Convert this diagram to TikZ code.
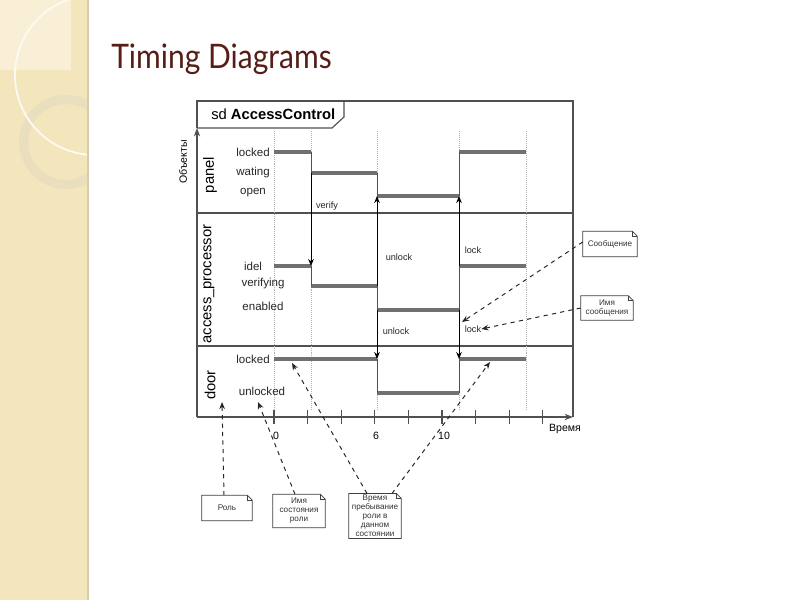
\documentclass[tikz,border=0pt]{standalone}
\usepackage{fontspec}
\setmainfont{Liberation Sans}
\newfontfamily\titlefont{Lato}
\usetikzlibrary{arrows.meta,positioning,calc}
\definecolor{stripbeige}{RGB}{243,229,188}
\definecolor{striplight}{RGB}{248,239,214}
\definecolor{stripedge} {RGB}{214,204,176}
\definecolor{ringtan}   {RGB}{233,222,190}
\definecolor{titlebrown}{RGB}{86,30,22}
\definecolor{stategray} {RGB}{112,112,112}
\definecolor{framegray} {RGB}{80,80,80}

% outline of a note with a folded corner, drawn round a named node
\newcommand{\foldnote}[1]{%
  \draw[noteline] (#1.south west) -- (#1.south east)
    -- ([yshift=-3.5pt]#1.north east) -- ([xshift=-3.5pt]#1.north east)
    -- (#1.north west) -- cycle;
  \draw[noteline] ([xshift=-3.5pt]#1.north east) |- ([yshift=-3.5pt]#1.north east);
}

\begin{document}
\begin{tikzpicture}[x=0.025cm, y=-0.025cm, >=Stealth,
  stateline/.style={draw=stategray, line width=2.2pt},
  trans/.style={draw=framegray, line width=0.6pt},
  msg/.style={draw=black, line width=0.6pt, -{Stealth[length=5pt,width=4pt]}},
  gridline/.style={draw=gray!60, densely dotted, line width=0.4pt},
  frameline/.style={draw=framegray, line width=0.8pt},
  statelbl/.style={font=\fontsize{8.2}{9}\selectfont, text=black!85, inner sep=0pt},
  msglbl/.style={font=\fontsize{6.5}{7}\selectfont, text=black!85, inner sep=0pt},
  lanelbl/.style={font=\fontsize{10.5}{12}\selectfont, rotate=90, inner sep=0pt},
  notebox/.style={font=\fontsize{5.8}{6.4}\selectfont, text=black!80, align=center,
                  inner sep=1pt},
  noteline/.style={draw=black!75, line width=0.6pt},
  hint/.style={draw=black!85, dashed, line width=0.7pt,
               -{Stealth[length=5pt,width=4pt]}},
]
\useasboundingbox (0,0) rectangle (800,600);

% Slide background
\fill[white] (0,0) rectangle (800,600);
\fill[stripbeige] (0,0) rectangle (88,600);
\fill[striplight] (0,0) rectangle (71,70);
\begin{scope}
  \clip (0,0) rectangle (88,600);
  \draw[ringtan, line width=6.4pt] (66,142) circle (1.06cm);
  \draw[white!80!stripbeige, line width=1.3pt] (95,75) circle (2cm);
\end{scope}
\draw[stripedge, line width=1.2pt] (88,0) -- (88,600);

% Title
\node[anchor=base west, inner sep=0pt, text=titlebrown,
      font=\titlefont\fontsize{24}{30}\selectfont] (title)
  at (111,68) {\scalebox{0.89}[1]{Timing Diagrams}};

% Frame and axes
\coordinate (orig) at (197,417);
\coordinate (yEnd) at (197,128);
\coordinate (xEnd) at (573,417);
\draw[frameline] (yEnd) -- (197,101) -- (573,101) -- (xEnd);
\draw[frameline] (yEnd) -- (332,128) -- (344,117) -- (344,101);
\node[anchor=west, inner sep=0pt, font=\fontsize{10.5}{12}\selectfont] (sdname)
  at (211,114) {sd \textbf{AccessControl}};
\draw[frameline, -{Stealth[length=6pt,width=4.5pt]}] (orig) -- (yEnd);
\draw[frameline, -{Stealth[length=6pt,width=4.5pt]}] (orig) -- (xEnd);
\draw[frameline] (197,213) -- (573,213);
\draw[frameline] (197,346) -- (573,346);

\node[rotate=90, font=\fontsize{7.5}{8}\selectfont] (objlbl) at (183,162) {Объекты};
\node[font=\fontsize{7.5}{8}\selectfont] (timelbl) at (565,429) {Время};

% Lanes
\node[lanelbl] (lpanel) at (210,175) {panel};
\node[lanelbl] (lproc)  at (209,284) {access\_processor};
\node[lanelbl] (ldoor)  at (210,385) {door};

% Grid and ticks
\foreach \gx in {274,311,377,459,526}
  \draw[gridline] (\gx,131) -- (\gx,410);
\foreach \k in {0,...,8}
  \draw[frameline] (274+33.6*\k,410) -- (274+33.6*\k,424);
\node[font=\fontsize{7.5}{8}\selectfont] (t0)  at (276,436) {0};
\node[font=\fontsize{7.5}{8}\selectfont] (t6)  at (376,436) {6};
\node[font=\fontsize{7.5}{8}\selectfont] (t10) at (444,436) {10};

% State names
\node[statelbl] (sPlocked)  at (253,152) {locked};
\node[statelbl] (sPwating)  at (253,173) {wating};
\node[statelbl] (sPopen)    at (253,193) {open};
\node[statelbl] (sAidel)    at (253,266) {idel};
\node[statelbl] (sAverify)  at (263,284) {verifying};
\node[statelbl] (sAenabled) at (263,306) {enabled};
\node[statelbl] (sDlocked)  at (253,359) {locked};
\node[statelbl] (sDunlock)  at (262,391) {unlocked};

% panel
\draw[stateline] (274,152) -- (311,152);
\draw[stateline] (311,173) -- (377,173);
\draw[stateline] (377,196) -- (459,196);
\draw[stateline] (459,152) -- (526,152);
\draw[trans] (311,152) -- (311,173);
\draw[trans] (377,173) -- (377,196);
\draw[trans] (459,196) -- (459,152);

% access_processor
\draw[stateline] (274,266) -- (311,266);
\draw[stateline] (311,286) -- (377,286);
\draw[stateline] (377,310) -- (459,310);
\draw[stateline] (459,266) -- (526,266);
\draw[trans] (311,266) -- (311,286);
\draw[trans] (377,286) -- (377,310);
\draw[trans] (459,310) -- (459,266);

% door
\draw[stateline] (274,359) -- (377,359);
\draw[stateline] (377,393) -- (459,393);
\draw[stateline] (459,359) -- (526,359);
\draw[trans] (377,359) -- (377,393);
\draw[trans] (459,393) -- (459,359);

% Messages
\coordinate (mVerA) at (311,173); \coordinate (mVerB) at (311,266);
\coordinate (mUnA)  at (377,286); \coordinate (mUnB)  at (377,196);
\coordinate (mUnC)  at (377,310); \coordinate (mUnD)  at (377,359);
\coordinate (mLkA)  at (459,266); \coordinate (mLkB)  at (459,196);
\coordinate (mLkC)  at (459,310); \coordinate (mLkD)  at (459,359);
\draw[msg] (mVerA) -- (mVerB);
\draw[msg] (mUnA) -- (mUnB);
\draw[msg] (mUnC) -- (mUnD);
\draw[msg] (mLkA) -- (mLkB);
\draw[msg] (mLkC) -- (mLkD);
\node[msglbl] (lVerify)  at (327,206) {verify};
\node[msglbl] (lUnlockA) at (399,257) {unlock};
\node[msglbl] (lUnlockB) at (396,331) {unlock};
\node[msglbl] (lLockA)   at (473,250) {lock};
\node[msglbl] (lLockB)   at (473,329) {lock};

% Notes
\node[notebox, minimum width=54*0.025cm, minimum height=25*0.025cm] (nMsg)
  at (610,244) {Сообщение};
\node[notebox, minimum width=52*0.025cm, minimum height=24*0.025cm] (nMsgName)
  at (607,308) {Имя\\сообщения};
\node[notebox, minimum width=50*0.025cm, minimum height=25*0.025cm] (nRole)
  at (227,508) {Роль};
\node[notebox, minimum width=52*0.025cm, minimum height=33*0.025cm] (nStateName)
  at (299,511) {Имя\\состояния\\роли};
\node[notebox, minimum width=52*0.025cm, minimum height=43*0.025cm] (nDuration)
  at (375,516) {Время\\пребывание\\роли в\\данном\\состоянии};
\foldnote{nMsg}
\foldnote{nMsgName}
\foldnote{nRole}
\foldnote{nStateName}
\foldnote{nDuration}

% Note pointers
\coordinate (pMsg)   at (462,322);
\coordinate (pRole)  at (222,402);
\coordinate (pState) at (258,402);
\coordinate (pDurA)  at (292,363);
\coordinate (pDurB)  at (490,362);
\draw[hint] ($(nMsg.west)+(0,-2)$) -- (pMsg);
\draw[hint] (nMsgName.west) -- (lLockB.east);
\draw[hint] ($(nRole.north)+(-3,0)$) -- (pRole);
\draw[hint] ($(nStateName.north)+(-4,0)$) -- (pState);
\draw[hint] ($(nDuration.north)+(-8,0)$) -- (pDurA);
\draw[hint] ($(nDuration.north)+(17,0)$) -- (pDurB);

\end{tikzpicture}
\end{document}
